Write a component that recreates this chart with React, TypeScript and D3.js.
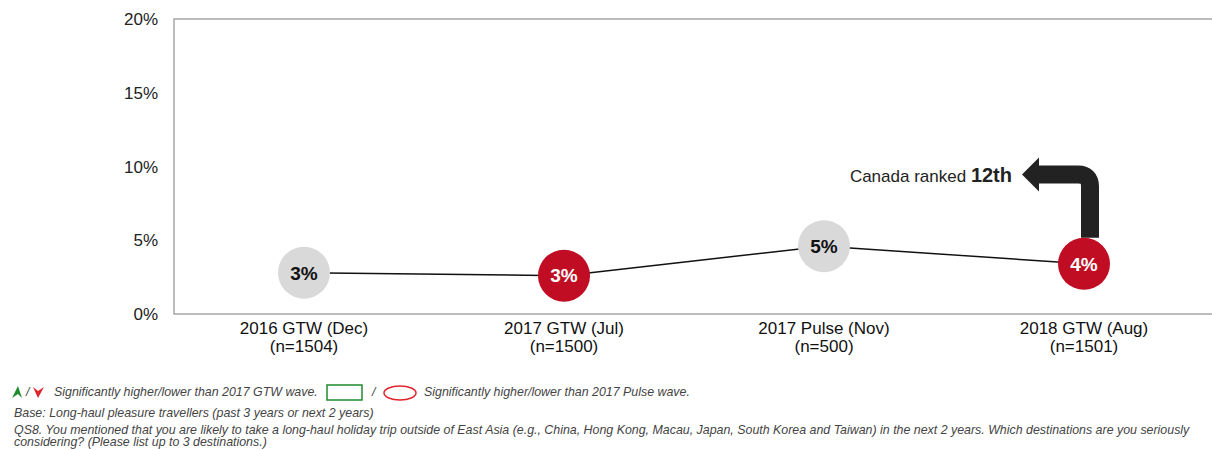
import React from 'react';
import * as d3 from 'd3';

const waves = ['2016 GTW (Dec)', '2017 GTW (Jul)', '2017 Pulse (Nov)', '2018 GTW (Aug)'];
const bases = ['(n=1504)', '(n=1500)', '(n=500)', '(n=1501)'];
const shares = [2.8, 2.6, 4.6, 3.4];
const shareLabels = ['3%', '3%', '5%', '4%'];
const highlighted = [false, true, false, true];
const yTicks = [0, 5, 10, 15, 20];

const W = 1212;
const H = 450;
const margin = { top: 19, right: -2, bottom: 136, left: 174 };

const GRAY = '#d9d9d9';
const RED = '#c00d23';
const FONT = 'Liberation Sans, Arial, sans-serif';

const App: React.FC = () => {
  const innerW = W - margin.left - margin.right;
  const innerH = H - margin.top - margin.bottom;

  const x = d3.scaleBand<string>().domain(waves).range([0, innerW]);
  const y = d3.scaleLinear().domain([0, 20]).range([innerH, 0]);

  const line = d3
    .line<number>()
    .x((_, i) => x(waves[i])! + x.bandwidth() / 2)
    .y((d) => y(d));

  // annotation arrow anchored on the last point
  const lastX = x(waves[3])! + x.bandwidth() / 2 + 6;
  const lastY = y(shares[3]) - 26;
  const bendY = y(10) + 8;
  const headX = lastX - 68;
  const r = 12;
  const arrowPath = `M${lastX},${lastY} L${lastX},${bendY + r} Q${lastX},${bendY} ${lastX - r},${bendY} L${headX + 14},${bendY}`;

  return (
    <svg width={W} height={H} style={{ position: 'absolute', left: 0, top: 0, background: '#fff' }} fontFamily={FONT}>
      <g transform={`translate(${margin.left},${margin.top})`}>
        {/* frame */}
        <rect x={0} y={0} width={innerW} height={innerH} fill="none" stroke="#a6a6a6" strokeWidth={1.5} />

        {yTicks.map((t) => (
          <text key={t} x={-16} y={y(t)} dy="0.36em" textAnchor="end" fontSize={17} fill="#222">
            {t}%
          </text>
        ))}

        {waves.map((w, i) => (
          <g key={w} transform={`translate(${x(w)! + x.bandwidth() / 2},${innerH})`}>
            <text y={20} textAnchor="middle" fontSize={17} fill="#111">{w}</text>
            <text y={38} textAnchor="middle" fontSize={17} fill="#111">{bases[i]}</text>
          </g>
        ))}

        <path d={line(shares) || ''} fill="none" stroke="#111" strokeWidth={1.5} />

        {/* arrow */}
        <path d={arrowPath} fill="none" stroke="#222" strokeWidth={18} />
        <path
          d={`M${headX},${bendY} L${headX + 17},${bendY - 17} L${headX + 17},${bendY + 17} Z`}
          fill="#222"
        />
        <text x={headX - 10} y={bendY + 7} textAnchor="end" fill="#222">
          <tspan fontSize={17}>Canada ranked </tspan>
          <tspan fontSize={20} fontWeight="bold">12th</tspan>
        </text>

        {shares.map((v, i) => {
          const cx = x(waves[i])! + x.bandwidth() / 2;
          const cy = y(v);
          return (
            <g key={i} transform={`translate(${cx},${cy})`}>
              <circle r={26} fill={highlighted[i] ? RED : GRAY} />
              <text dy="0.36em" textAnchor="middle" fontSize={19} fontWeight="bold" fill={highlighted[i] ? '#fff' : '#111'}>
                {shareLabels[i]}
              </text>
            </g>
          );
        })}
      </g>

      {/* footnotes */}
      <g fontStyle="italic" fontSize={12.4} fill="#444">
        <path d="M12,398 L18,386 L22,398 L18,394 Z" fill="#1e8a2e" />
        <text x={26} y={396}>/</text>
        <path d="M33,387 L38,391 L44,387 L38,398 Z" fill="#e0242b" />
        <text x={54} y={396}>Significantly higher/lower than 2017 GTW wave.</text>
        <rect x={327} y={385} width={35} height={15} fill="none" stroke="#1e8a2e" strokeWidth={1.5} />
        <text x={372} y={396}>/</text>
        <ellipse cx={400} cy={393} rx={16} ry={7} fill="none" stroke="#e0242b" strokeWidth={1.5} />
        <text x={424} y={396}>Significantly higher/lower than 2017 Pulse wave.</text>
        <text x={14} y={417}>Base: Long-haul pleasure travellers (past 3 years or next 2 years)</text>
        <text x={14} y={434}>
          QS8. You mentioned that you are likely to take a long-haul holiday trip outside of East Asia (e.g., China, Hong Kong, Macau, Japan, South Korea and Taiwan) in the next 2 years. Which destinations are you seriously
        </text>
        <text x={14} y={446}>considering? (Please list up to 3 destinations.)</text>
      </g>
    </svg>
  );
};

export default App;
